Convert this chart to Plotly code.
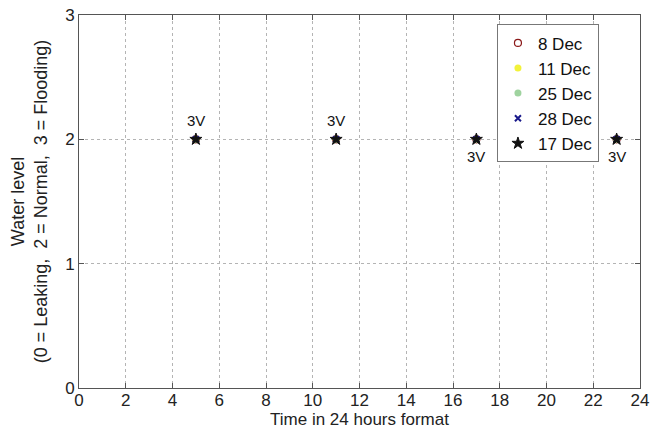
import plotly.graph_objects as go

# Data
times = [5, 11, 17, 23]
levels = [2, 2, 2, 2]
point_labels = ["3V", "3V", "3V", "3V"]
label_pos = ["above", "above", "below", "below"]
series_names = ["8 Dec", "11 Dec", "25 Dec", "28 Dec", "17 Dec"]
x_ticks = list(range(0, 25, 2))
y_ticks = [0, 1, 2, 3]

FONT = "Liberation Sans, Arial, sans-serif"

styles = {
    "8 Dec": dict(symbol="circle-open", color="#8b1a1a", size=7, line=dict(width=1.2, color="#8b1a1a")),
    "11 Dec": dict(symbol="circle", color="#f2f23a", size=7, line=dict(width=0)),
    "25 Dec": dict(symbol="circle", color="#9fd39f", size=7, line=dict(width=0)),
    "28 Dec": dict(symbol="x-thin-open", color="#1a1a8b", size=6, line=dict(width=2, color="#1a1a8b")),
    "17 Dec": dict(symbol="star", color="#111111", size=9, line=dict(width=1, color="#111111")),
}

fig = go.Figure()
for name in series_names:
    fig.add_trace(go.Scatter(
        x=times, y=levels, mode="markers", name=name,
        marker=styles[name],
    ))

for t, v, lab, pos in zip(times, levels, point_labels, label_pos):
    fig.add_annotation(
        x=t, y=v, text=lab, showarrow=False,
        yshift=19 if pos == "above" else -17,
        font=dict(family=FONT, size=15, color="#111111"),
    )

axis_common = dict(
    showline=True, linecolor="#555555", linewidth=1, mirror="ticks",
    ticks="inside", ticklen=5, tickcolor="#555555",
    showgrid=True, gridcolor="#b4b4b4", griddash="dot", gridwidth=1,
    zeroline=False, automargin=False,
    tickfont=dict(family=FONT, size=17, color="#222222"),
)

fig.update_xaxes(
    range=[0, 24], tickvals=x_ticks, **axis_common,
    ticklabelstandoff=-3,
    title=dict(text="Time in 24 hours format", standoff=0,
               font=dict(family=FONT, size=17, color="#222222")),
)
fig.update_yaxes(
    range=[0, 3], tickvals=y_ticks, **axis_common,
    title=dict(text="Water level<br>(0 = Leaking,  2 = Normal,  3 = Flooding)", standoff=12,
               font=dict(family=FONT, size=18, color="#222222")),
)

fig.update_layout(
    width=652, height=435,
    margin=dict(l=79, r=12, t=15, b=47),
    paper_bgcolor="white", plot_bgcolor="white",
    showlegend=True,
    legend=dict(
        x=0.745, y=0.975, xanchor="left", yanchor="top",
        bgcolor="white", bordercolor="#777777", borderwidth=1,
        font=dict(family=FONT, size=17, color="#111111"),
        tracegroupgap=0, itemwidth=30,
    ),
)

fig.write_html("out.html")
